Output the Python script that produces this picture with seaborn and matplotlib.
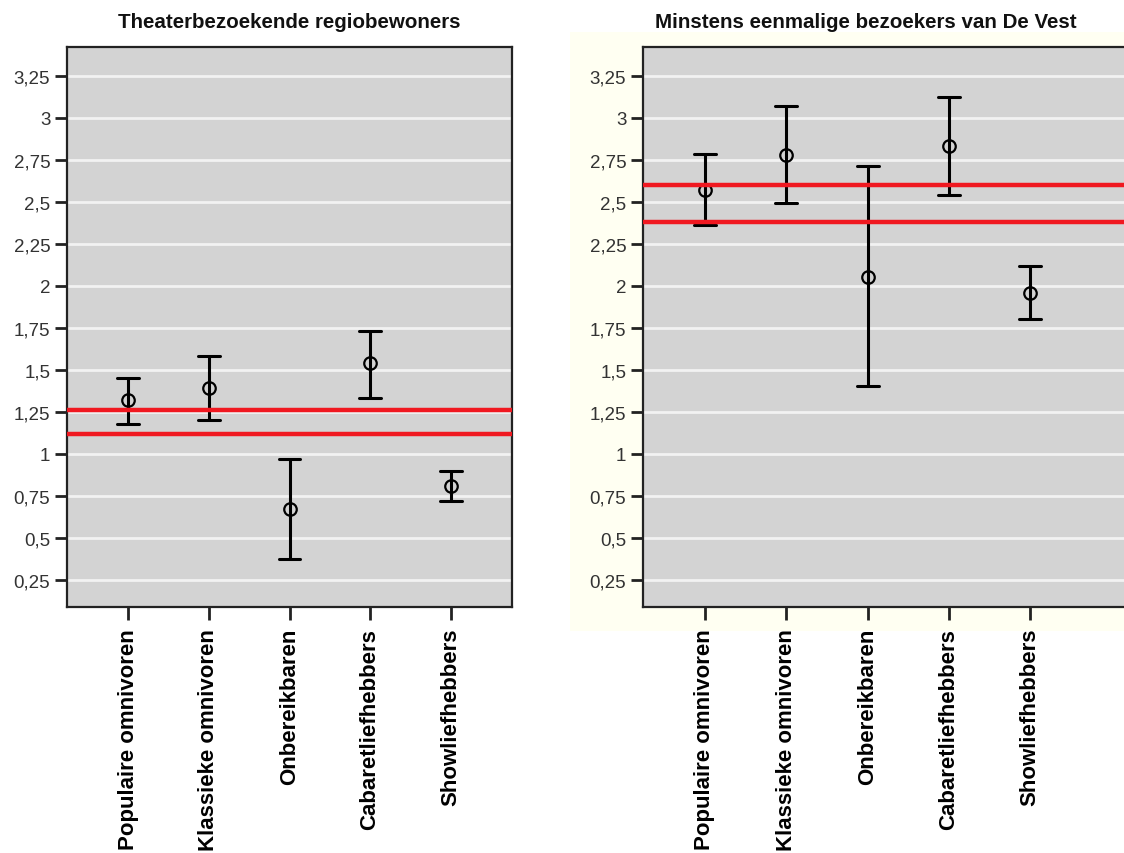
import matplotlib
matplotlib.use("Agg")
import matplotlib.pyplot as plt
import matplotlib.patches as mpatches
import seaborn as sns
import pandas as pd

categories = ["Populaire omnivoren", "Klassieke omnivoren", "Onbereikbaren",
              "Cabaretliefhebbers", "Showliefhebbers"]

left_title = "Theaterbezoekende regiobewoners"
left_mean = [1.32, 1.39, 0.67, 1.54, 0.81]
left_low = [1.18, 1.20, 0.375, 1.33, 0.72]
left_high = [1.45, 1.58, 0.97, 1.73, 0.90]
left_ref = [1.26, 1.12]

right_title = "Minstens eenmalige bezoekers van De Vest"
right_mean = [2.57, 2.78, 2.05, 2.83, 1.96]
right_low = [2.36, 2.49, 1.405, 2.54, 1.80]
right_high = [2.785, 3.07, 2.71, 3.12, 2.12]
right_ref = [2.60, 2.38]

yticks = [0.25, 0.5, 0.75, 1, 1.25, 1.5, 1.75, 2, 2.25, 2.5, 2.75, 3, 3.25]
ytick_labels = ["0,25", "0,5", "0,75", "1", "1,25", "1,5", "1,75", "2",
                "2,25", "2,5", "2,75", "3", "3,25"]

sns.set_style("white")
plt.rcParams["font.family"] = ["Liberation Sans", "DejaVu Sans"]

W, H = 1124, 854
fig = plt.figure(figsize=(W / 100, H / 100), dpi=100)

# cream backdrop behind right panel
fig.patches.append(mpatches.Rectangle((570 / W, 1 - 632 / H), (W - 570) / W, (632 - 33) / H,
                                      transform=fig.transFigure, facecolor="#fffff2",
                                      edgecolor="none", zorder=-5))

ax_top, ax_bot = 48, 608
axL = fig.add_axes([67 / W, 1 - ax_bot / H, (512 - 67) / W, (ax_bot - ax_top) / H])
axR = fig.add_axes([643 / W, 1 - ax_bot / H, (1150 - 643) / W, (ax_bot - ax_top) / H])
axL.set_zorder(2)
axR.set_zorder(2)


def build(mean, low, high):
    rows = []
    for c, m, lo, hi in zip(categories, mean, low, high):
        for v in (lo, m, hi):
            rows.append({"cat": c, "val": v})
    return pd.DataFrame(rows)


def draw(ax, mean, low, high, refs, xmax):
    ax.set_facecolor("#d3d3d3")
    df = build(mean, low, high)
    sns.pointplot(data=df, x="cat", y="val", order=categories, ax=ax,
                  estimator="median", errorbar=("pi", 100),
                  color="black", linestyle="none", marker="o",
                  markersize=9, markerfacecolor="none", markeredgewidth=1.6,
                  capsize=0.27, err_kws={"linewidth": 2.2})
    for r in refs:
        ax.axhline(r, color="#f01820", linewidth=3.2, zorder=4)
    ax.set_ylim(0.09, 3.42)
    ax.set_xlim(-0.76, xmax)
    ax.set_yticks(yticks)
    ax.set_yticklabels(ytick_labels)
    ax.yaxis.grid(True, color="#f2f2f2", linewidth=2.0)
    ax.set_axisbelow(True)
    ax.set_xlabel("")
    ax.set_ylabel("")
    ax.tick_params(axis="y", length=9, width=2, color="#222222", labelsize=13.5,
                   labelcolor="#333333", pad=3, left=True)
    ax.tick_params(axis="x", length=9, width=2, color="#222222", labelsize=16,
                   labelcolor="black", pad=6, bottom=True)
    ax.set_xticks(range(len(categories)))
    ax.set_xticklabels(categories, rotation=90, fontweight="bold", va="top")
    for s in ax.spines.values():
        s.set_color("#222222")
        s.set_linewidth(1.6)
        s.set_visible(True)


draw(axL, left_mean, left_low, left_high, left_ref, 4.76)
draw(axR, right_mean, right_low, right_high, right_ref, 4 + (1150 - 1030) / 81.5)

fig.text(289 / W, 1 - 22 / H, left_title, ha="center", va="center",
         fontsize=14.8, fontweight="bold", color="#111111")
fig.text(866 / W, 1 - 22 / H, right_title, ha="center", va="center",
         fontsize=14.8, fontweight="bold", color="#111111")

fig.savefig("out.png", dpi=100, facecolor="white")
